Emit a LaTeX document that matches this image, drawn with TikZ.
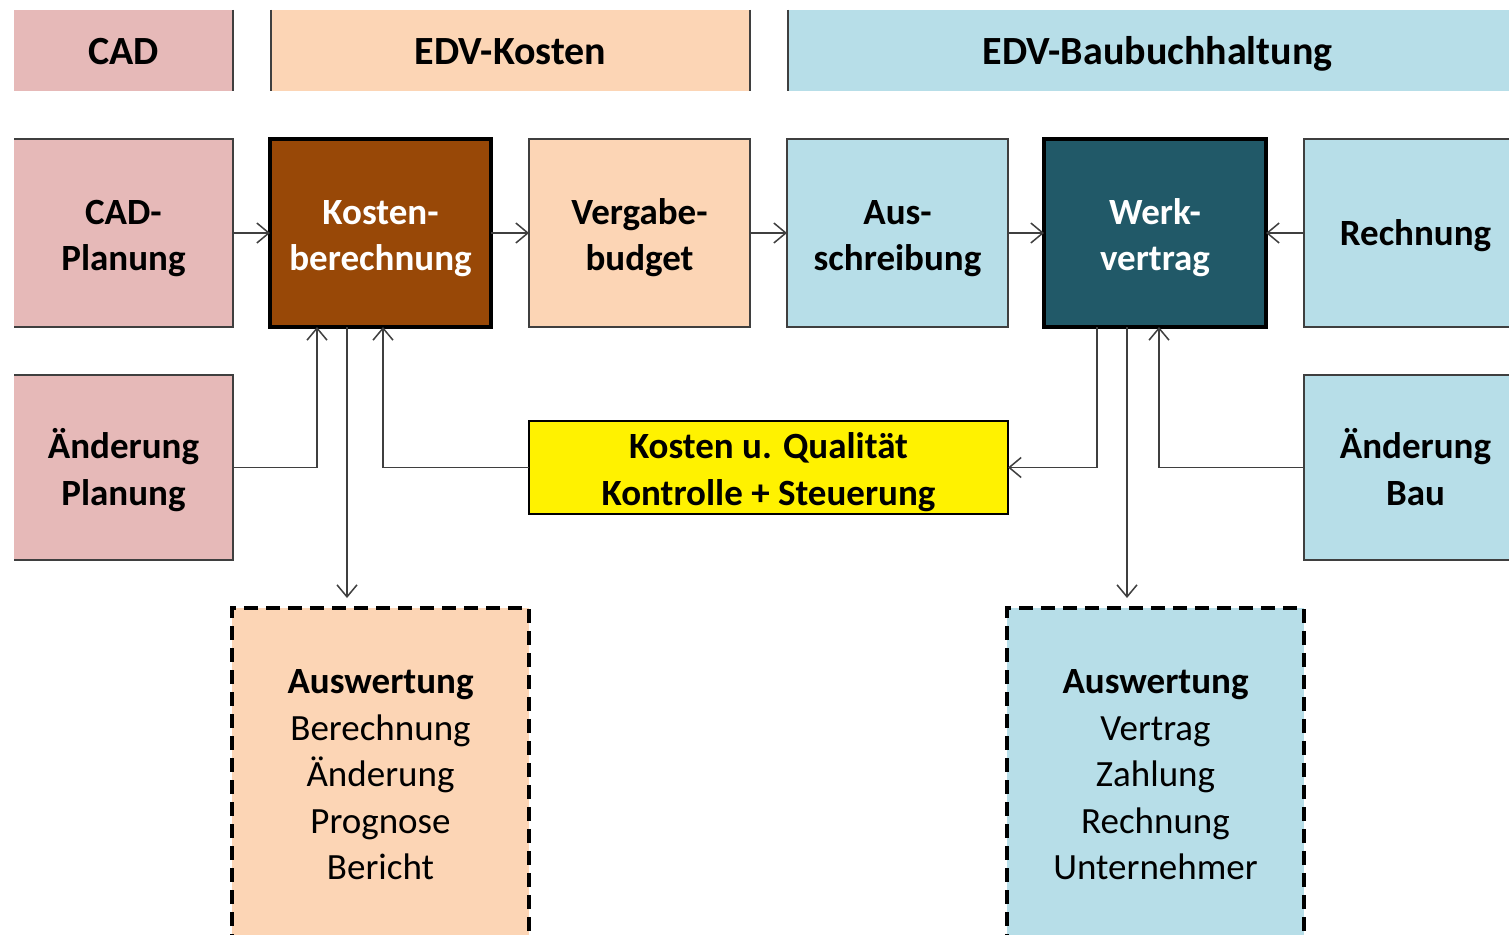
\documentclass[tikz,border=0pt]{standalone}
\usepackage{fontspec}
\setmainfont{Carlito}
\usetikzlibrary{arrows.meta}
\definecolor{cpink}{HTML}{E6B9B8}
\definecolor{cpeach}{HTML}{FCD5B5}
\definecolor{cblue}{HTML}{B7DEE8}
\definecolor{cbrown}{HTML}{984807}
\definecolor{cteal}{HTML}{215968}
\definecolor{cline}{HTML}{3F3F3F}
\begin{document}
\begin{tikzpicture}[x=1pt,y=-1pt,
  base/.style={inner sep=0pt, outer sep=0pt, align=center, font=\fontsize{37}{46.5}\selectfont\bfseries},
  oneline/.style={text height=25pt, text depth=0pt},
  twoline/.style={text height=75pt, text depth=0pt},
  box/.style={base, draw=cline, line width=1.5pt},
  hbox/.style={inner sep=0pt, outer sep=0pt, align=center, font=\fontsize{40}{48}\selectfont\bfseries, minimum height=81pt,
    text height=27pt, text depth=0pt},
  keybox/.style={base, draw=black, line width=3.5pt, text=white},
  outbox/.style={inner sep=0pt, outer sep=0pt, align=center, draw=black, line width=3.5pt, dash pattern=on 14pt off 8pt, font=\fontsize{37}{46.5}\selectfont},
  side/.style={draw=cline, line width=1.5pt},
  conn/.style={draw=cline, line width=1.5pt, -{Straight Barb[length=12pt,width=20pt]}}
]
\clip (0,0) rectangle (1509,934);
\fill[white] (0,0) rectangle (1509,934);

% headers
\node[hbox, fill=cpink, minimum width=219pt] (hcad) at (123.5,50.5) {CAD};
\node[hbox, fill=cpeach, minimum width=479pt] (hkost) at (510.5,50.5) {EDV-Kosten};
\node[hbox, fill=cblue, minimum width=739pt] (hbau) at (1157.5,50.5) {EDV-Baubuchhaltung};
\draw[side] (hcad.north east) -- (hcad.south east);
\draw[side] (hkost.north west) -- (hkost.south west);
\draw[side] (hkost.north east) -- (hkost.south east);
\draw[side] (hbau.north west) -- (hbau.south west);

% row 1
\node[base, twoline, fill=cpink, minimum width=219pt, minimum height=188pt] (cadp) at (123.5,233) {CAD-\\Planung};
\draw[side] (cadp.north west) -- (cadp.north east) -- (cadp.south east) -- (cadp.south west);
\node[keybox, twoline, fill=cbrown, minimum width=221pt, minimum height=188pt] (kost) at (380.5,233) {Kosten-\\berechnung};
\node[box, twoline, fill=cpeach, minimum width=221pt, minimum height=188pt] (verg) at (639.5,233) {Vergabe-\\budget};
\node[box, twoline, fill=cblue, minimum width=221pt, minimum height=188pt] (aus) at (897.5,233) {Aus-\\schreibung};
\node[keybox, twoline, fill=cteal, minimum width=222pt, minimum height=188pt] (werk) at (1155,233) {Werk-\\vertrag};
\node[box, oneline, fill=cblue, minimum width=223pt, minimum height=188pt] (rech) at (1415.5,233) {Rechnung};

% row 2
\node[base, twoline, fill=cpink, minimum width=219pt, minimum height=185pt] (aenp) at (123.5,467.5) {Änderung\\Planung};
\draw[side] (aenp.north west) -- (aenp.north east) -- (aenp.south east) -- (aenp.south west);
\node[base, twoline, draw=black, line width=1.2pt, fill=yellow, minimum width=479pt, minimum height=93pt] (kq) at (768.5,467.5) {Kosten u. Qualität\\Kontrolle + Steuerung};
\node[box, twoline, fill=cblue, minimum width=223pt, minimum height=185pt] (aenb) at (1415.5,467.5) {Änderung\\Bau};

% bottom
\node[outbox, fill=cpeach, minimum width=297pt, minimum height=334pt] (ausl) at (380.5,775) {\textbf{Auswertung}\\Berechnung\\Änderung\\Prognose\\Bericht};
\node[outbox, fill=cblue, minimum width=297pt, minimum height=334pt] (ausr) at (1155.5,775) {\textbf{Auswertung}\\Vertrag\\Zahlung\\Rechnung\\Unternehmer};

% connectors
\draw[conn] (cadp.east) -- (kost.west);
\draw[conn] (kost.east) -- (verg.west);
\draw[conn] (verg.east) -- (aus.west);
\draw[conn] (aus.east) -- (werk.west);
\draw[conn] (rech.west) -- (werk.east);

\coordinate (k1) at (317,327);
\coordinate (k2) at (383,327);
\coordinate (kd) at (347,327);
\draw[conn] (aenp.east) -| (k1);
\draw[conn] (kq.west) -| (k2);
\draw[conn, shorten >=10pt] (kd) -- (kd |- ausl.north);

\coordinate (w1) at (1097,327);
\coordinate (w2) at (1127,327);
\coordinate (w3) at (1159,327);
\draw[conn] (w1) |- (kq.east);
\draw[conn, shorten >=10pt] (w2) -- (w2 |- ausr.north);
\draw[conn] (aenb.west) -| (w3);
\end{tikzpicture}
\end{document}
